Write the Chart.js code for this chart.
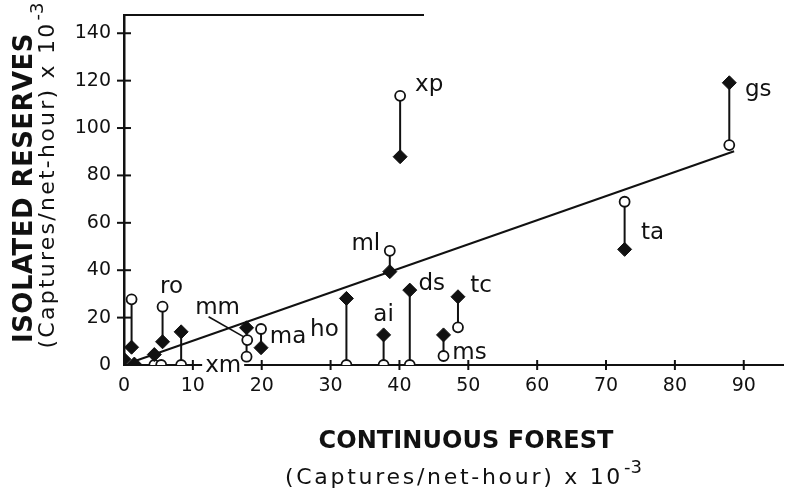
<!DOCTYPE html>
<html><head><meta charset="utf-8">
<script src="https://cdn.jsdelivr.net/npm/chart.js@4.4.0/dist/chart.umd.min.js"></script>
<style>html,body{margin:0;padding:0;background:#fff;}#wrap{width:791px;height:493px;}</style>
</head><body><div id="wrap"><canvas id="c" width="791" height="493"></canvas></div>
<script>
// ---- data ----
const species = ['', '', '', '', 'ro', '', 'xm', 'mm', '', 'ma', 'ho', 'ai', 'ml', 'xp', 'ds', 'ms', 'tc', 'ta', 'gs'];
const continuousForest = [0.0, 1.1, 1.5, 4.4, 5.6, 5.4, 8.3, 17.8, 17.9, 19.9, 32.3, 37.7, 38.6, 40.1, 41.5, 46.4, 48.5, 72.7, 87.9];
const reserveOpen   = [null, 27.7, null, 0, 24.6, 0, 0, 3.5, 10.5, 15.2, 0, 0, 48.2, 113.6, 0, 3.8, 15.9, 68.9, 92.8];
const reserveFilled = [2.4, 7.5, 0.4, 4.4, 9.8, null, 14.0, 15.7, null, 7.3, 28.1, 12.7, 39.4, 87.9, 31.6, 12.7, 28.8, 48.8, 119.1];
const fitX = [1.5, 88.6];
const fitY = [1.6, 90.2];
const xTicks = [0, 10, 20, 30, 40, 50, 60, 70, 80, 90];
const yTicks = [0, 20, 40, 60, 80, 100, 120, 140];

// ---- label placement (pixel offsets from the upper point of each pair) ----
const labelOffsets = {
  ro: [9, -20], xm: [42, 34], mm: [-29, -20], ma: [27, 8], ho: [-22, 32], ai: [0, -20],
  ml: [-24, -7], xp: [29, -11], ds: [22, -6], ms: [26, 18], tc: [23, -11], ta: [28, 31], gs: [29, 7]
};

const INK = '#111';
const datasets = [];
datasets.push({
  label: 'filled', order: 0,
  data: continuousForest.map((x, i) => ({x, y: reserveFilled[i]})).filter(p => p.y !== null),
  pointStyle: 'rectRot', pointRadius: 7, backgroundColor: INK, borderColor: INK, borderWidth: 1
});
datasets.push({
  label: 'open', order: 1,
  data: continuousForest.map((x, i) => ({x, y: reserveOpen[i]})).filter(p => p.y !== null),
  pointStyle: 'circle', pointRadius: 5, backgroundColor: '#fff', borderColor: INK, borderWidth: 1.8
});
datasets.push({
  label: 'fit', order: 2, showLine: true, pointRadius: 0,
  data: fitX.map((x, i) => ({x, y: fitY[i]})), borderColor: INK, borderWidth: 2
});
continuousForest.forEach((x, i) => {
  if (reserveOpen[i] !== null && reserveFilled[i] !== null) {
    datasets.push({
      label: 'pair' + i, order: 3, showLine: true, pointRadius: 0,
      data: [{x, y: reserveFilled[i]}, {x, y: reserveOpen[i]}], borderColor: INK, borderWidth: 2
    });
  }
});

function spacedText(ctx, text, cx, cy, font, target) {
  ctx.font = font;
  ctx.letterSpacing = '0px';
  const w = ctx.measureText(text).width;
  const n = [...text].length;
  const ls = Math.max((target - w) / n, 0);
  ctx.letterSpacing = ls + 'px';
  ctx.textAlign = 'left';
  ctx.textBaseline = 'middle';
  ctx.fillText(text, cx - (w + ls * n) / 2, cy);
  ctx.letterSpacing = '0px';
}
function supText(ctx, text, sup, cx, cy, font, supFont, target) {
  ctx.font = font; ctx.letterSpacing = '0px';
  const wm = ctx.measureText(text).width;
  ctx.font = supFont;
  const ws = ctx.measureText(sup).width;
  const n = [...text].length;
  const ls = Math.max((target - wm - ws) / n, 0);
  const x0 = cx - (wm + ws + ls * n) / 2;
  ctx.textAlign = 'left'; ctx.textBaseline = 'middle';
  ctx.font = font; ctx.letterSpacing = ls + 'px';
  ctx.fillText(text, x0, cy);
  ctx.letterSpacing = '0px';
  ctx.font = supFont;
  ctx.fillText(sup, x0 + wm + ls * n + 1, cy - 10);
}

const deco = {
  id: 'deco',
  afterDatasetsDraw(chart) {
    const ctx = chart.ctx, xs = chart.scales.x, ys = chart.scales.y;
    ctx.save();
    ctx.fillStyle = INK;
    ctx.font = '23px "DejaVu Sans"';
    ctx.textAlign = 'center'; ctx.textBaseline = 'middle';
    species.forEach((s, i) => {
      if (!s) return;
      const off = labelOffsets[s];
      const top = Math.max(reserveOpen[i] ?? -1, reserveFilled[i] ?? -1);
      const px = xs.getPixelForValue(continuousForest[i]) + off[0];
      const py = ys.getPixelForValue(top) + off[1];
      if (s === 'xm') {
        const w = ctx.measureText(s).width;
        ctx.fillStyle = '#fff';
        ctx.fillRect(px - w / 2 - 3, py - 4, w + 6, 8);
        ctx.fillStyle = INK;
      }
      ctx.fillText(s, px, py);
      if (s === 'mm') {
        const j = 8; // unlabelled open point the leader points to
        ctx.strokeStyle = INK; ctx.lineWidth = 1.6;
        ctx.beginPath();
        ctx.moveTo(px - 9, py + 9);
        ctx.lineTo(xs.getPixelForValue(continuousForest[j]) - 3, ys.getPixelForValue(reserveOpen[j]) - 3);
        ctx.stroke();
      }
    });
    ctx.restore();
  },
  afterDraw(chart) {
    const ctx = chart.ctx, xs = chart.scales.x, ys = chart.scales.y, a = chart.chartArea;
    ctx.save();
    ctx.strokeStyle = INK; ctx.lineWidth = 2;
    // cross ticks
    xTicks.forEach(v => { if (!v) return; const p = xs.getPixelForValue(v);
      ctx.beginPath(); ctx.moveTo(p, a.bottom - 5); ctx.lineTo(p, a.bottom + 5); ctx.stroke(); });
    yTicks.forEach(v => { if (!v) return; const p = ys.getPixelForValue(v);
      ctx.beginPath(); ctx.moveTo(a.left - 7, p); ctx.lineTo(a.left + 7, p); ctx.stroke(); });
    // partial top frame
    ctx.beginPath(); ctx.moveTo(a.left - 1, a.top); ctx.lineTo(a.left + 300, a.top); ctx.stroke();
    // axis titles
    ctx.fillStyle = INK;
    spacedText(ctx, 'CONTINUOUS FOREST', 466, 442, 'bold 24px "DejaVu Sans"', 295);
    supText(ctx, '(Captures/net-hour) x 10', '-3', 463, 478, '22px "DejaVu Sans"', '18px "DejaVu Sans"', 356);
    ctx.translate(25, 188); ctx.rotate(-Math.PI / 2);
    spacedText(ctx, 'ISOLATED RESERVES', 0, 0, 'bold 26px "DejaVu Sans"', 310);
    ctx.setTransform(1, 0, 0, 1, 0, 0);
    ctx.translate(48, 176); ctx.rotate(-Math.PI / 2);
    supText(ctx, '(Captures/net-hour) x 10', '-3', 0, 0, '22px "DejaVu Sans"', '18px "DejaVu Sans"', 345);
    ctx.restore();
  }
};

new Chart(document.getElementById('c'), {
  type: 'scatter',
  data: { datasets },
  options: {
    responsive: false, animation: false, devicePixelRatio: 1,
    layout: { padding: { top: 15, right: 1, left: 0, bottom: 0 } },
    plugins: { legend: { display: false }, tooltip: { enabled: false } },
    scales: {
      x: {
        type: 'linear', min: 0, max: 95.7,
        afterBuildTicks: s => { s.ticks = xTicks.map(v => ({ value: v })); },
        afterFit: s => { s.height = 128; s.paddingLeft = 0; s.paddingRight = 0; },
        grid: { drawOnChartArea: false, drawTicks: false },
        border: { display: true, color: INK, width: 2 },
        ticks: { padding: 10, color: INK, font: { family: 'DejaVu Sans', size: 19 }, maxRotation: 0, autoSkip: false }
      },
      y: {
        type: 'linear', min: 0, max: 147.7,
        afterBuildTicks: s => { s.ticks = yTicks.map(v => ({ value: v })); },
        afterFit: s => { s.width = 124; s.paddingTop = 0; s.paddingBottom = 0; },
        grid: { drawOnChartArea: false, drawTicks: false },
        border: { display: true, color: INK, width: 2.5 },
        ticks: { padding: 13, color: INK, font: { family: 'DejaVu Sans', size: 19 }, autoSkip: false }
      }
    }
  },
  plugins: [deco]
});
</script></body></html>
